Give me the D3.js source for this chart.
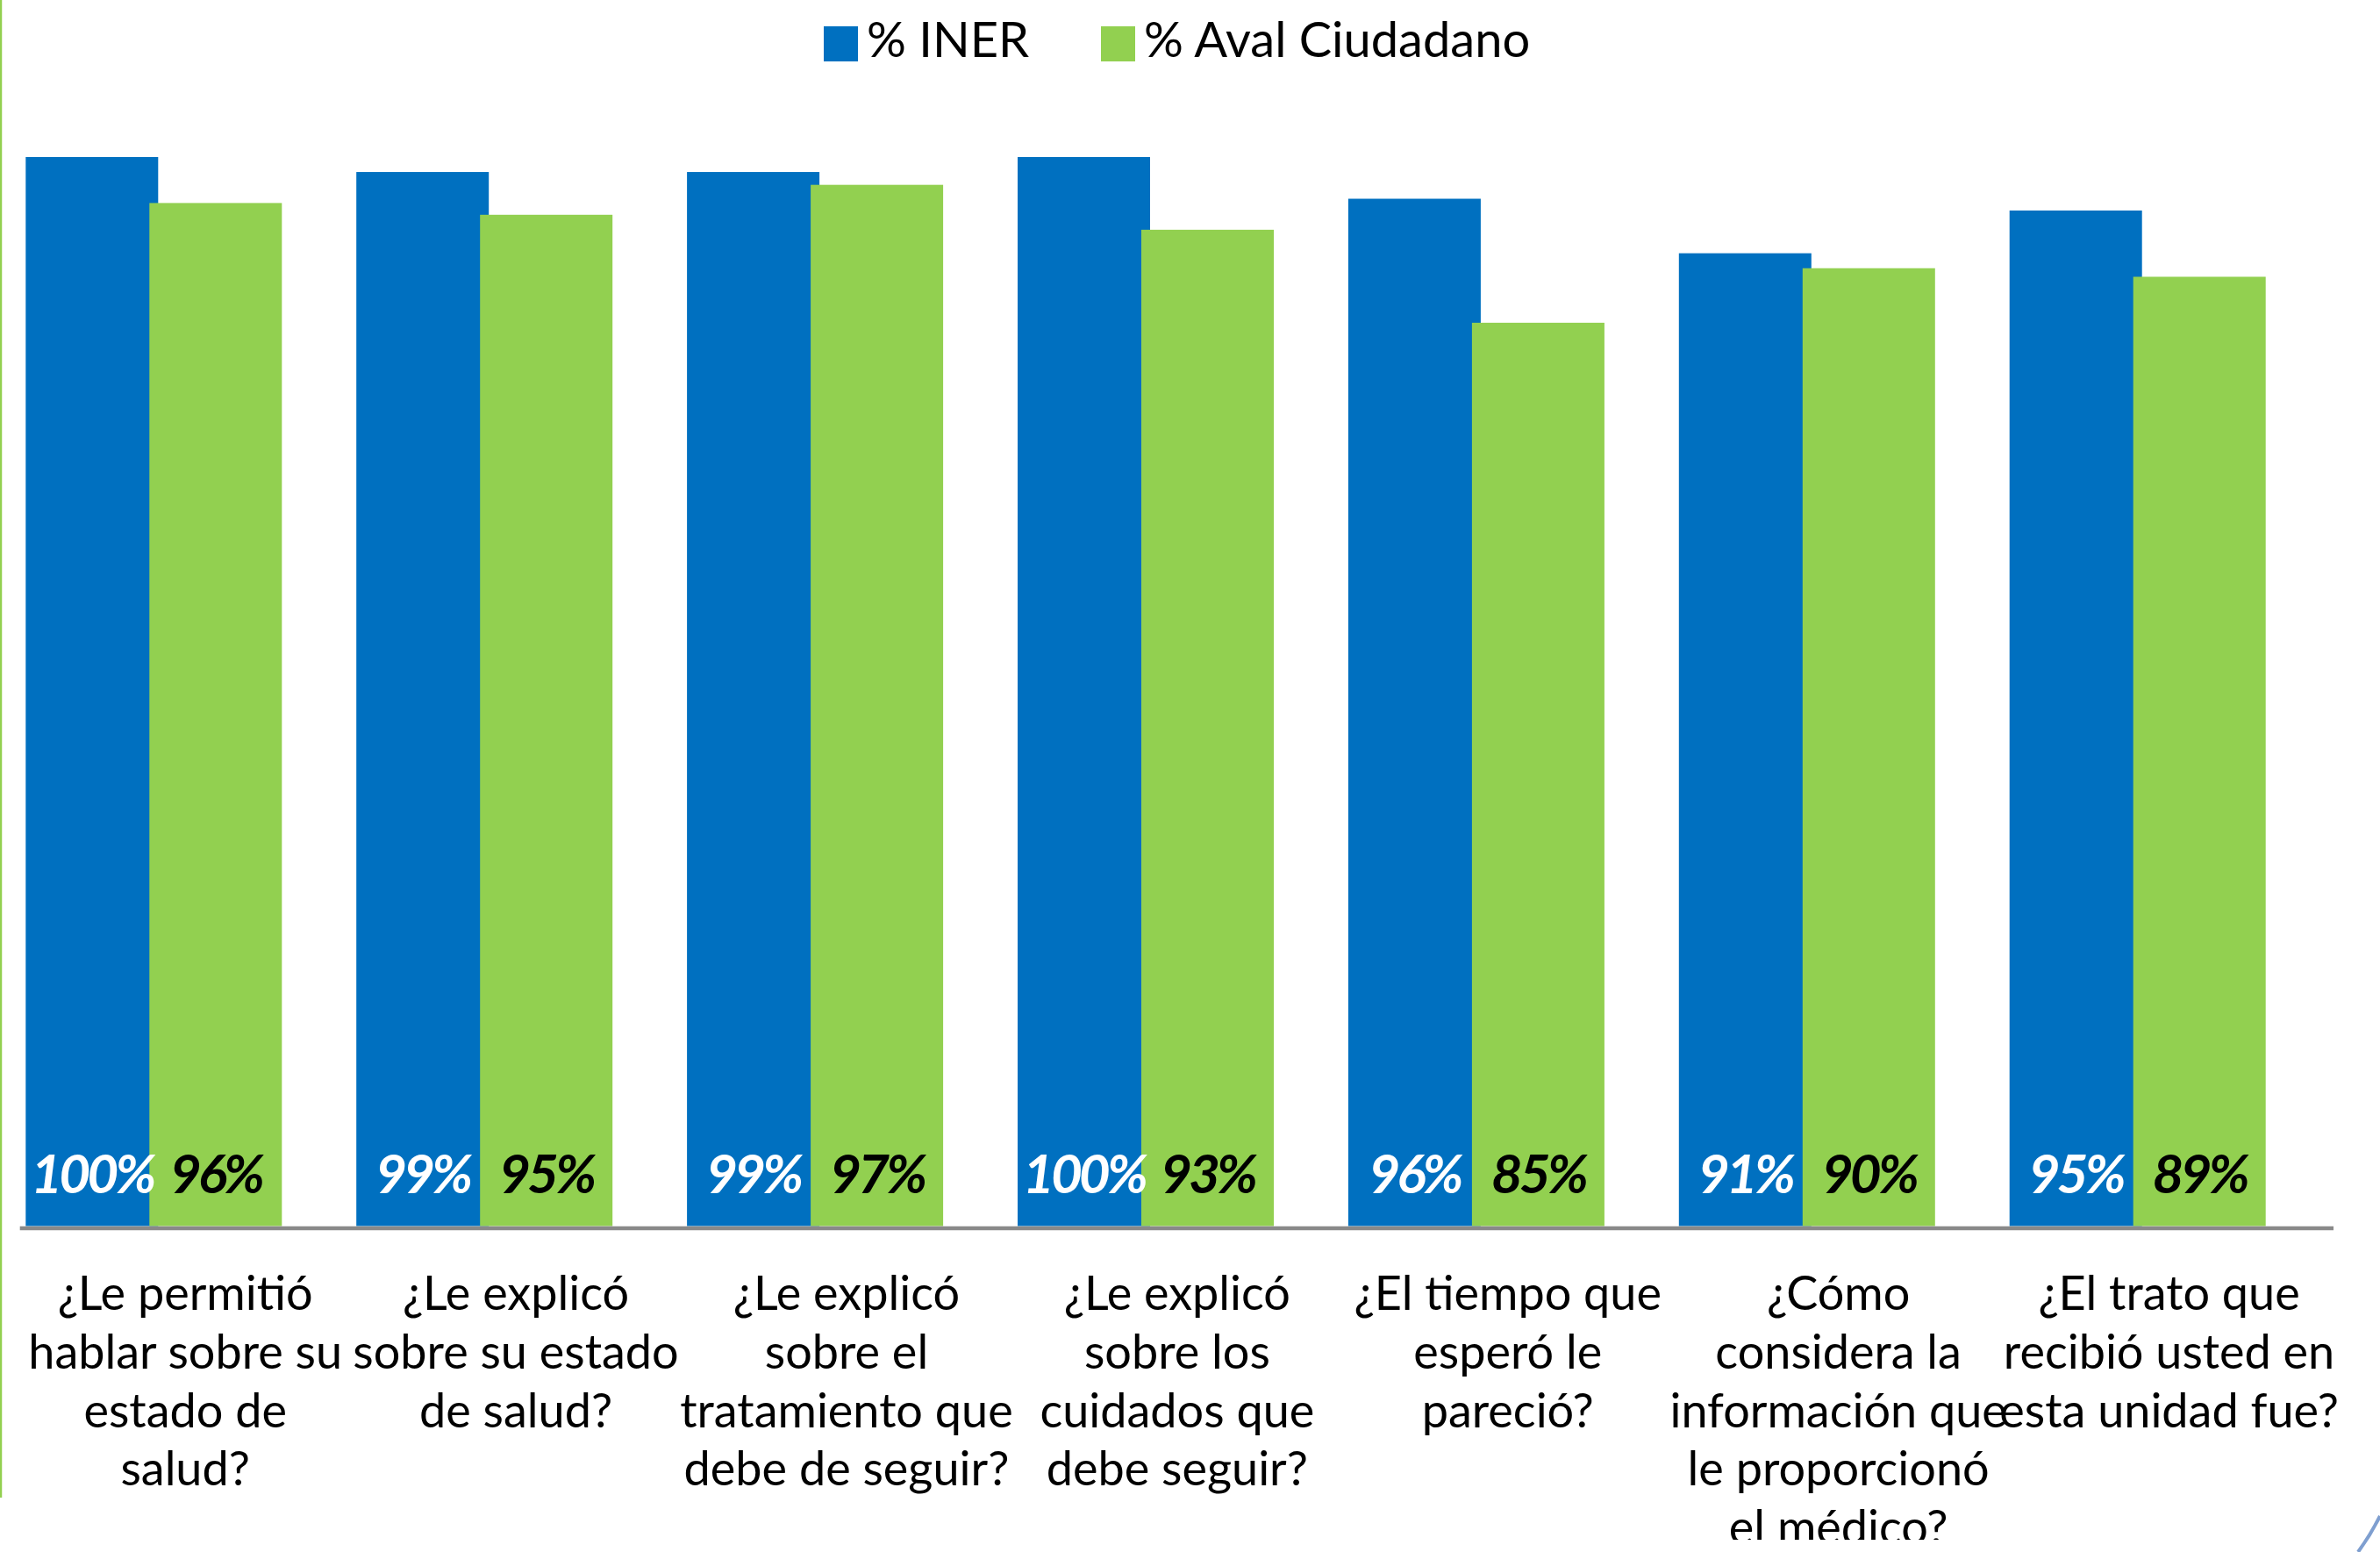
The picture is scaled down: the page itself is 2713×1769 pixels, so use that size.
<!DOCTYPE html>
<html><head><meta charset="utf-8">
<script src="https://cdn.jsdelivr.net/npm/d3@7"></script>
<style>html,body{margin:0;padding:0;background:#fff;overflow:hidden}</style>
</head><body>
<svg id="chart" width="2713" height="1769"></svg>
<script>
// ---- data ----
const categories = [
  "¿Le permitió\nhablar sobre su\nestado de\nsalud?",
  "¿Le explicó\nsobre su estado\nde salud?",
  "¿Le explicó\nsobre el\ntratamiento que\ndebe de seguir?",
  "¿Le explicó\nsobre los\ncuidados que\ndebe seguir?",
  "¿El tiempo que\nesperó le\npareció?",
  "¿Cómo\nconsidera la\ninformación que\nle proporcionó\nel médico?",
  "¿El trato que\nrecibió usted en\nesta unidad fue?"
];
const seriesNames = ["% INER", "% Aval Ciudadano"];
const inerValues = [100, 98.6, 98.6, 100, 96.1, 91.0, 95.0];
const avalValues = [95.7, 94.6, 97.4, 93.2, 84.5, 89.6, 88.8];
const seriesColors = ["#0070C0", "#92D050"];
const labelColors = ["#FFFFFF", "#000000"];

// ---- layout ----
const W = 2713, H = 1769;
const baseY = 1397.5, topY = 179;
const svg = d3.select("#chart");
svg.append("rect").attr("width", W).attr("height", H).attr("fill", "#fff");

const x0 = d3.scaleBand().domain(categories).range([22.7, 22.7 + 7 * 376.9]).padding(0);
const x1 = d3.scaleBand().domain(seriesNames).range([6.6, 6.6 + 282]).padding(0);
const barW = x1.bandwidth() + 10;
const y = d3.scaleLinear().domain([0, 100]).range([baseY, topY]);

const rows = categories.map((c, i) => ({cat: c, vals: [inerValues[i], avalValues[i]]}));

// bars
const groups = svg.append("g").selectAll("g").data(rows).join("g")
  .attr("transform", d => `translate(${x0(d.cat)},0)`);
groups.selectAll("rect").data(d => d.vals.map((v, k) => ({k, v})))
  .join("rect")
  .attr("x", d => x1(seriesNames[d.k]))
  .attr("y", d => y(d.v))
  .attr("width", barW)
  .attr("height", d => y(0) - y(d.v))
  .attr("fill", d => seriesColors[d.k]);

// data labels
groups.selectAll("text.dl").data(d => d.vals.map((v, k) => ({k, v})))
  .join("text").attr("class", "dl")
  .attr("x", d => x1(seriesNames[d.k]) + barW / 2)
  .attr("y", 1360)
  .attr("text-anchor", "middle")
  .attr("font-family", "Lato, 'Open Sans', sans-serif")
  .attr("font-weight", "bold")
  .attr("font-style", "italic")
  .attr("font-size", 62)
  .attr("letter-spacing", -4)
  .attr("fill", d => labelColors[d.k])
  .text(d => Math.round(d.v) + "%");

// x axis line
svg.append("line")
  .attr("x1", x0.range()[0]).attr("x2", 2660)
  .attr("y1", baseY + 2.5).attr("y2", baseY + 2.5)
  .attr("stroke", "#898989").attr("stroke-width", 4.5);

// category labels (clipped at slide edge)
svg.append("clipPath").attr("id", "lblclip")
  .append("rect").attr("x", 0).attr("y", 1400).attr("width", W).attr("height", 355);
const lbl = svg.append("g").attr("clip-path", "url(#lblclip)");
categories.forEach(c => {
  const t = lbl.append("text")
    .attr("text-anchor", "middle")
    .attr("font-family", "Lato, 'Open Sans', sans-serif")
    .attr("font-size", 54)
    .attr("fill", "#000");
  c.split("\n").forEach((line, j) => {
    t.append("tspan")
      .attr("x", x0(c) + x0.bandwidth() / 2)
      .attr("y", 1493 + j * 66.8)
      .text(line);
  });
});

// legend
const legendX = [939, 1255];
const leg = svg.append("g");
seriesNames.forEach((s, k) => {
  leg.append("rect").attr("x", legendX[k]).attr("y", 30).attr("width", 39).attr("height", 40)
    .attr("fill", seriesColors[k]);
  leg.append("text").attr("x", legendX[k] + 49).attr("y", 65)
    .attr("font-family", "Lato, 'Open Sans', sans-serif")
    .attr("font-size", 56).attr("fill", "#000").text(s);
});

// slide decorations
svg.append("line").attr("x1", 1).attr("x2", 1).attr("y1", 0).attr("y2", 1707)
  .attr("stroke", "#92D050").attr("stroke-width", 2.5);
svg.append("path").attr("d", "M2713,1728 Q2702,1750 2688,1769")
  .attr("fill", "none").attr("stroke", "#7f9fd0").attr("stroke-width", 4);
</script>
</body></html>
